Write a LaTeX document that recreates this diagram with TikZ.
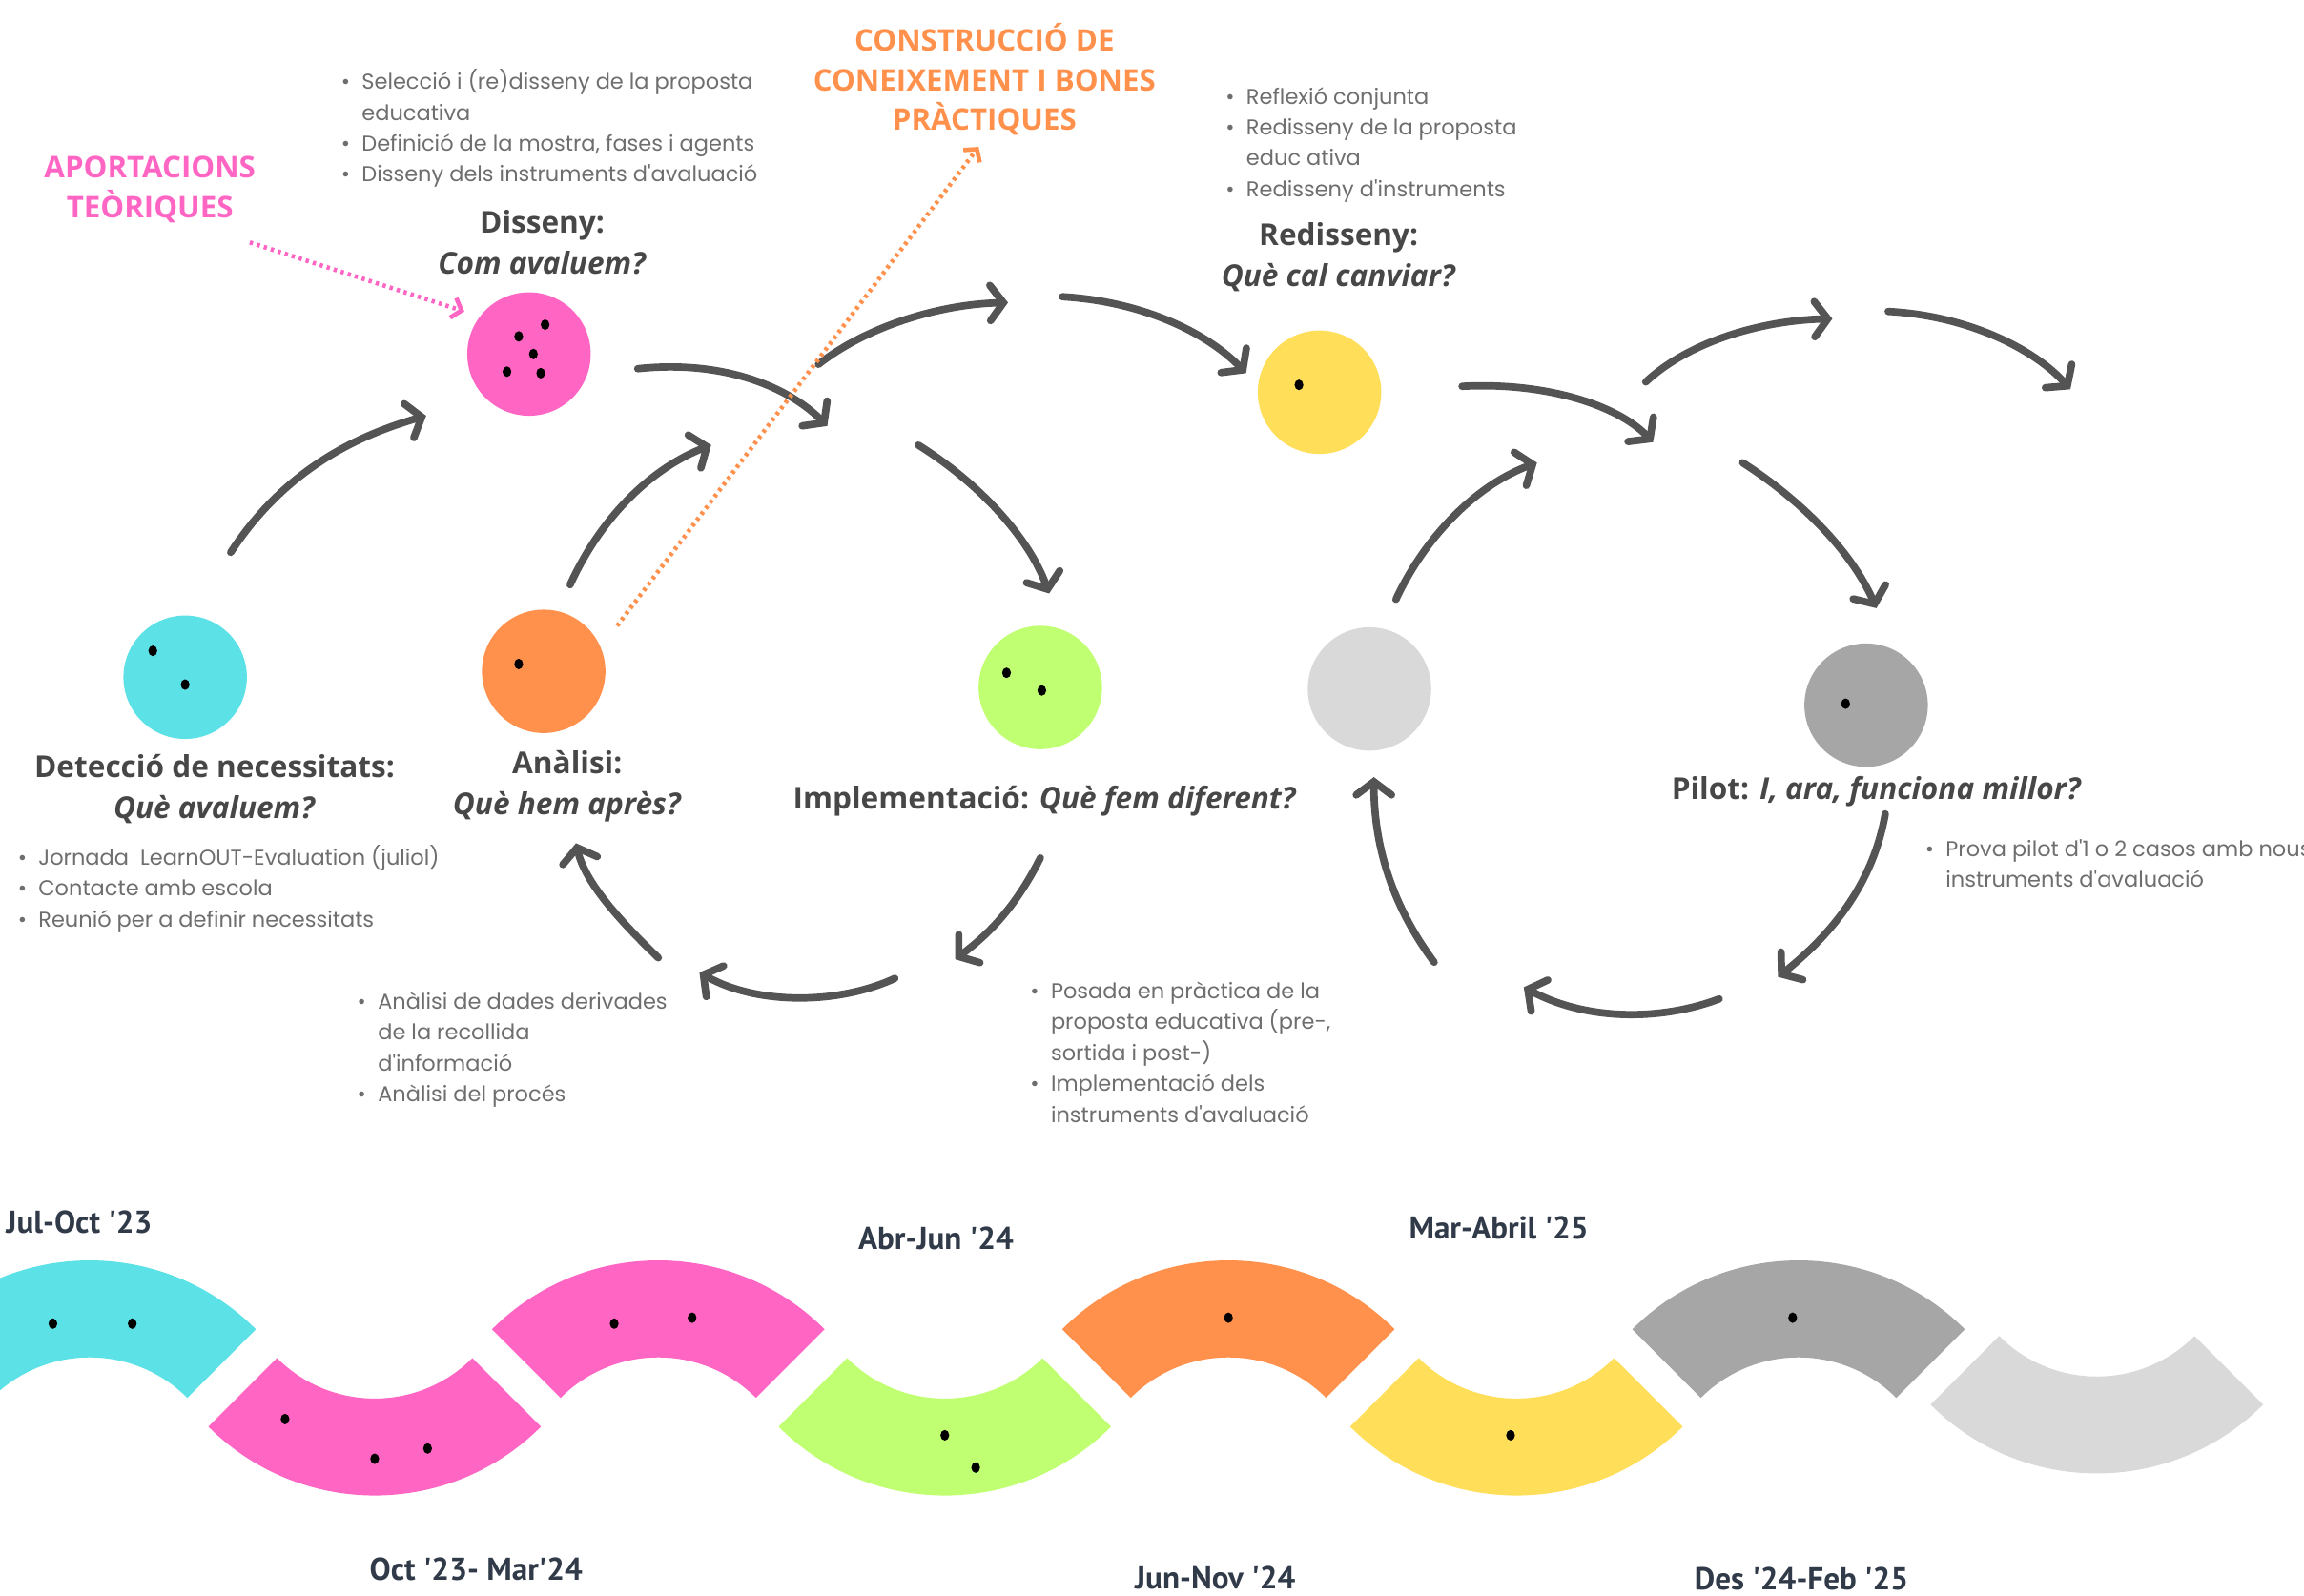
\documentclass[tikz,border=0pt]{standalone}
\usepackage{fontspec}
\setmainfont{Open Sans}
\newfontfamily\bodyfont{Poppins}
\newfontfamily\datefont{PT Sans}
\usetikzlibrary{arrows.meta}
\definecolor{cyanc}{HTML}{5CE1E6}
\definecolor{pinkc}{HTML}{FF66C4}
\definecolor{orangec}{HTML}{FF914D}
\definecolor{greenc}{HTML}{C1FF72}
\definecolor{yellowc}{HTML}{FFDE59}
\definecolor{lgrayc}{HTML}{D9D9D9}
\definecolor{dgrayc}{HTML}{A6A6A6}
\definecolor{arrowc}{HTML}{545454}
\definecolor{headc}{HTML}{474747}
\definecolor{bodyc}{HTML}{6E6E6E}
\definecolor{datec}{HTML}{303A48}
\newcommand\wcup[3]{\fill[#3] (#1-113.14,#2+113.14) arc[start angle=225,end angle=315,radius=160pt] -- (#1+66.47,#2+66.47) arc[start angle=315,end angle=225,radius=94pt] -- cycle;}
\newcommand\warch[3]{\fill[#3] (#1-113.14,#2-113.14) arc[start angle=135,end angle=45,radius=160pt] -- (#1+66.47,#2-66.47) arc[start angle=45,end angle=135,radius=94pt] -- cycle;}
\tikzset{
  disc/.style={circle,minimum size=84pt,inner sep=0pt,draw=none},
  cyc/.style={draw=arrowc,line width=5pt,line cap=round,-{Straight Barb[length=9pt,width=24pt,line cap=round]}},
  dotarrow/.style={line width=3pt,dash pattern=on 2.2pt off 2.8pt,-{Straight Barb[length=6pt,width=14pt]}},
  head/.style={font=\fontsize{20.5}{28}\selectfont\bfseries,text=headc,align=center,inner sep=0pt},
  blist/.style={font=\bodyfont\fontsize{14.6}{21}\selectfont,text=bodyc,anchor=north west,inner sep=0pt},
  datel/.style={font=\datefont\fontsize{21.5}{22}\selectfont\bfseries,text=datec,inner sep=0pt},
  ttl/.style={font=\fontsize{20.3}{27}\selectfont\bfseries,align=center,inner sep=0pt},
}
\newcommand\bul{\textbullet}
\begin{document}
\begin{tikzpicture}[x=1pt,y=-1pt]
\useasboundingbox (0,0) rectangle (1568,1086);
\clip (0,0) rectangle (1568,1086);
% circles
\node[disc,fill=cyanc] (detec) at (126,461) {};
\node[disc,fill=orangec] (anal) at (370,457) {};
\node[disc,fill=pinkc] (diss) at (360,241) {};
\node[disc,fill=greenc] (impl) at (708,468) {};
\node[disc,fill=yellowc] (redis) at (898,267) {};
\node[disc,fill=lgrayc] (lgc) at (932,469) {};
\node[disc,fill=dgrayc] (pilot) at (1270,480) {};
% dots
\foreach \p in {(104,443),(126,466),(353,452),(371,221),(353,229),(363,241),(345,253),(368,254),(685,458),(709,470),(884,262),(1256,479)}
  \fill \p ellipse (3pt and 3.6pt);
% titles
\node[ttl,text=pinkc] (aport) at (102,129) {APORTACIONS\\TEÒRIQUES};
\node[ttl,text=orangec] (constr) at (670,54) {CONSTRUCCIÓ DE\\CONEIXEMENT I BONES\\PRÀCTIQUES};
% headings
\node[head] (hdiss) at (369,165) {Disseny:\\\textit{Com avaluem?}};
\node[head] (hredis) at (911,175) {Redisseny:\\\textit{Què cal canviar?}};
\node[head] (hdetec) at (146,537) {Detecció de necessitats:\\\textit{Què avaluem?}};
\node[head] (hanal) at (386,535) {Anàlisi:\\\textit{Què hem après?}};
\node[head] (himpl) at (711,545) {Implementació: \textit{Què fem diferent?}};
\node[head] (hpilot) at (1277,539) {Pilot: \textit{I, ara, funciona millor?}};
% lists
\node[blist] (ldiss) at (232,46) {\begin{tabular}{@{}l@{\hspace{8pt}}l@{}}\bul & Selecció i (re)disseny de la proposta\\ & educativa\\ \bul & Definició de la mostra, fases i agents\\ \bul & Disseny dels instruments d'avaluació\end{tabular}};
\node[blist] (lredis) at (834,56) {\begin{tabular}{@{}l@{\hspace{8pt}}l@{}}\bul & Reflexió conjunta\\ \bul & Redisseny de la proposta\\ & educ ativa\\ \bul & Redisseny d'instruments\end{tabular}};
\node[blist] (ldetec) at (12,574) {\begin{tabular}{@{}l@{\hspace{8pt}}l@{}}\bul & Jornada\ \ LearnOUT-Evaluation (juliol)\\ \bul & Contacte amb escola\\ \bul & Reunió per a definir necessitats\end{tabular}};
\node[blist] (lanal) at (243,672) {\begin{tabular}{@{}l@{\hspace{8pt}}l@{}}\bul & Anàlisi de dades derivades\\ & de la recollida\\ & d'informació\\ \bul & Anàlisi del procés\end{tabular}};
\node[blist] (limpl) at (701,665) {\begin{tabular}{@{}l@{\hspace{8pt}}l@{}}\bul & Posada en pràctica de la\\ & proposta educativa (pre-,\\ & sortida i post-)\\ \bul & Implementació dels\\ & instruments d'avaluació\end{tabular}};
\node[blist] (lpilot) at (1310,568) {\begin{tabular}{@{}l@{\hspace{8pt}}l@{}}\bul & Prova pilot d'1 o 2 casos amb nous\\ & instruments d'avaluació\end{tabular}};
% cycle arrows
\coordinate (a1s) at (157,376); \coordinate (a1e) at (290,283);
\coordinate (a2s) at (434,251); \coordinate (a2e) at (563,290);
\coordinate (a3s) at (557,248); \coordinate (a3e) at (686,206);
\coordinate (a4s) at (723,202); \coordinate (a4e) at (848,254);
\coordinate (a5s) at (625,303); \coordinate (a5e) at (714,404);
\coordinate (a6s) at (388,398); \coordinate (a6e) at (484,303);
\coordinate (a7s) at (708,584); \coordinate (a7e) at (650,653);
\coordinate (a8s) at (609,666); \coordinate (a8e) at (476,662);
\coordinate (a9s) at (448,652); \coordinate (a9e) at (392,574);
\coordinate (a10s) at (995,263); \coordinate (a10e) at (1125,301);
\coordinate (a11s) at (1120,260); \coordinate (a11e) at (1247,217);
\coordinate (a12s) at (1285,212); \coordinate (a12e) at (1409,265);
\coordinate (a13s) at (1186,315); \coordinate (a13e) at (1277,414);
\coordinate (a14s) at (950,408); \coordinate (a14e) at (1046,315);
\coordinate (a15s) at (1283,554); \coordinate (a15e) at (1210,665);
\coordinate (a16s) at (1170,680); \coordinate (a16e) at (1037,672);
\coordinate (a17s) at (976,655); \coordinate (a17e) at (935,529);
\draw[cyc] (a1s) .. controls (195,318) and (245,296) .. (a1e);
\draw[cyc] (a2s) .. controls (490,245) and (535,262) .. (a2e);
\draw[cyc] (a3s) .. controls (590,222) and (640,207) .. (a3e);
\draw[cyc] (a4s) .. controls (775,205) and (820,225) .. (a4e);
\draw[cyc] (a5s) .. controls (665,328) and (700,365) .. (a5e);
\draw[cyc] (a6s) .. controls (410,350) and (445,318) .. (a6e);
\draw[cyc] (a7s) .. controls (690,620) and (670,638) .. (a7e);
\draw[cyc] (a8s) .. controls (570,684) and (515,684) .. (a8e);
\draw[cyc] (a9s) .. controls (420,625) and (398,600) .. (a9e);
\draw[cyc] (a10s) .. controls (1050,260) and (1100,275) .. (a10e);
\draw[cyc] (a11s) .. controls (1150,232) and (1200,218) .. (a11e);
\draw[cyc] (a12s) .. controls (1340,215) and (1385,238) .. (a12e);
\draw[cyc] (a13s) .. controls (1225,340) and (1260,375) .. (a13e);
\draw[cyc] (a14s) .. controls (970,365) and (1005,330) .. (a14e);
\draw[cyc] (a15s) .. controls (1275,600) and (1248,635) .. (a15e);
\draw[cyc] (a16s) .. controls (1130,695) and (1080,695) .. (a16e);
\draw[cyc] (a17s) .. controls (950,620) and (935,580) .. (a17e);
% dotted arrows
\coordinate (pinkstart) at (170,165);
\coordinate (pinkend) at (316,212);
\coordinate (orangestart) at (420,426);
\coordinate (orangeend) at (666,100);
\draw[dotarrow,draw=pinkc] (pinkstart) -- (pinkend);
\draw[dotarrow,draw=orangec] (orangestart) -- (orangeend);
% wave
\warch{61}{1018}{cyanc}
\wcup{255}{858}{pinkc}
\warch{448}{1018}{pinkc}
\wcup{643}{858}{greenc}
\warch{836}{1018}{orangec}
\wcup{1032}{858}{yellowc}
\warch{1224}{1018}{dgrayc}
\wcup{1427}{843}{lgrayc}
\foreach \p in {(36,901),(90,901),(194,966),(255,993),(291,986),(418,901),(471,897),(643,977),(664,999),(836,897),(1028,977),(1220,897)}
  \fill \p ellipse (3pt and 3.6pt);
% dates
\node[datel,anchor=west] (d1) at (4,832) {Jul-Oct '23};
\node[datel] (d2) at (324,1068) {Oct '23- Mar'24};
\node[datel] (d3) at (637,843) {Abr-Jun '24};
\node[datel] (d4) at (827,1074) {Jun-Nov '24};
\node[datel] (d5) at (1020,836) {Mar-Abril '25};
\node[datel] (d6) at (1226,1075) {Des '24-Feb '25};
\end{tikzpicture}
\end{document}
